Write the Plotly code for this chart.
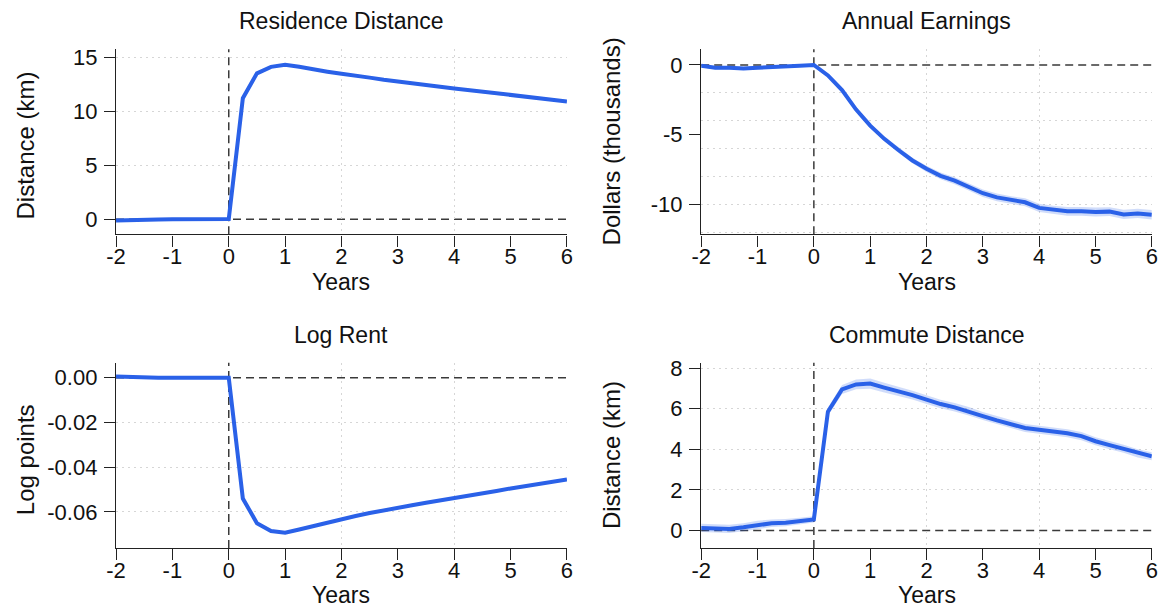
import plotly.graph_objects as go

W, H = 1167, 609

# Event time in years (quarterly)
years = [-2.0, -1.75, -1.5, -1.25, -1.0, -0.75, -0.5, -0.25, 0.0,
         0.25, 0.5, 0.75, 1.0, 1.25, 1.5, 1.75, 2.0, 2.25, 2.5, 2.75,
         3.0, 3.25, 3.5, 3.75, 4.0, 4.25, 4.5, 4.75, 5.0, 5.25, 5.5, 5.75, 6.0]

# Residence distance (km)
residence = [-0.12, -0.06, -0.02, -0.02, -0.01, -0.01, 0.0, 0.02, 0.03,
             11.2, 13.5, 14.1, 14.3, 14.1, 13.85, 13.65, 13.45, 13.3, 13.1, 12.9,
             12.72, 12.55, 12.4, 12.25, 12.1, 11.95, 11.78, 11.6, 11.42, 11.3, 11.18, 11.05, 10.9]
residence_se = [0.06] * 9 + [0.1] * 24

# Annual earnings (thousands of dollars)
earnings = [-0.05, -0.2, -0.2, -0.25, -0.2, -0.17, -0.12, -0.06, 0.0,
            -0.75, -1.8, -3.2, -4.35, -5.3, -6.1, -6.85, -7.45, -7.95, -8.3, -8.75,
            -9.2, -9.5, -9.7, -9.85, -10.25, -10.4, -10.5, -10.5, -10.55, -10.52, -10.72, -10.65, -10.75]
earnings_se = [0.12, 0.12, 0.12, 0.12, 0.1, 0.1, 0.08, 0.06, 0.0,
               0.1, 0.12, 0.14, 0.16, 0.18, 0.2, 0.2, 0.22, 0.24, 0.25, 0.26,
               0.27, 0.28, 0.28, 0.29, 0.3, 0.3, 0.31, 0.31, 0.32, 0.32, 0.33, 0.33, 0.34]

# Log rent (log points)
log_rent = [0.0005, 0.0002, 0.0, 0.0, 0.0, -0.0001, -0.0001, -0.0001, -0.0001,
            -0.054, -0.065, -0.0685, -0.0693, -0.0678, -0.0662, -0.0646, -0.0631, -0.0618, -0.0605, -0.0592,
            -0.0581, -0.057, -0.0559, -0.0549, -0.054, -0.0529, -0.0518, -0.0506, -0.0495, -0.0485, -0.0474, -0.0464, -0.0455]
log_rent_se = [0.0003] * 9 + [0.0004] * 24

# Commute distance (km)
commute = [0.13, 0.1, 0.08, 0.16, 0.28, 0.36, 0.39, 0.47, 0.55,
           5.86, 6.95, 7.2, 7.24, 7.04, 6.87, 6.67, 6.45, 6.23, 6.07, 5.88,
           5.64, 5.43, 5.25, 5.05, 4.96, 4.87, 4.79, 4.65, 4.4, 4.21, 4.03, 3.8, 3.66]
commute_se = [0.2, 0.2, 0.2, 0.2, 0.2, 0.19, 0.18, 0.16, 0.15,
              0.2, 0.22, 0.24, 0.25, 0.24, 0.23, 0.22, 0.22, 0.21, 0.21, 0.21,
              0.2, 0.2, 0.2, 0.2, 0.2, 0.2, 0.2, 0.2, 0.2, 0.2, 0.2, 0.2, 0.2]

x_ticks = [-2, -1, 0, 1, 2, 3, 4, 5, 6]
x_ticktext = ["-2", "-1", "0", "1", "2", "3", "4", "5", "6"]
x_grid = [2, 4, 6]

titles = ["Residence Distance", "Annual Earnings", "Log Rent", "Commute Distance"]
y_titles = ["Distance (km)", "Dollars (thousands)", "Log points", "Distance (km)"]
series = [residence, earnings, log_rent, commute]
series_se = [residence_se, earnings_se, log_rent_se, commute_se]
y_tickvals = [[0, 5, 10, 15], [-10, -5, 0], [-0.06, -0.04, -0.02, 0.0], [0, 2, 4, 6, 8]]
y_ticktext = [["0", "5", "10", "15"], ["-10", "-5", "0"],
              ["-0.06", "-0.04", "-0.02", "0.00"], ["0", "2", "4", "6", "8"]]
y_grid = [[5, 10, 15], [-2, -4, -6, -8, -10, -12], [-0.02, -0.04, -0.06], [2, 4, 6, 8]]
y_ranges = [[-1.4, 15.73], [-12.15, 1.13], [-0.0761, 0.0066], [-0.86, 8.26]]

LINE = "#2a61e8"
BAND = "rgba(42, 97, 232, 0.22)"
FONT = "Liberation Sans, Arial, Helvetica, sans-serif"
INK = "#111"
AXIS = "#222"
GRID = "#d6d6d6"

# plot areas in pixels: (left, right, top, bottom)
boxes = [(107.5, 564.7, 42.7, 230.0), (700.8, 1157.7, 42.7, 230.0),
         (107.5, 564.7, 360.0, 547.3), (700.8, 1157.7, 360.0, 547.3)]


def px_x(v):
    return v / W


def px_y(v):
    return 1 - v / H


fig = go.Figure()
annotations = []
shapes = []

for i in range(4):
    xa = "x" if i == 0 else f"x{i + 1}"
    ya = "y" if i == 0 else f"y{i + 1}"
    vals = series[i]
    se = series_se[i]
    lower = [v - s for v, s in zip(vals, se)]
    upper = [v + s for v, s in zip(vals, se)]
    fig.add_trace(go.Scatter(x=years, y=lower, mode="lines", line=dict(width=0, color=BAND),
                             xaxis=xa, yaxis=ya, showlegend=False, hoverinfo="skip"))
    fig.add_trace(go.Scatter(x=years, y=upper, mode="lines", line=dict(width=0, color=BAND),
                             fill="tonexty", fillcolor=BAND,
                             xaxis=xa, yaxis=ya, showlegend=False, hoverinfo="skip"))
    fig.add_trace(go.Scatter(x=years, y=vals, mode="lines", line=dict(width=4, color=LINE),
                             xaxis=xa, yaxis=ya, showlegend=False))

    l, r, t, b = boxes[i]
    xkey = "xaxis" if i == 0 else f"xaxis{i + 1}"
    ykey = "yaxis" if i == 0 else f"yaxis{i + 1}"
    fig.update_layout({
        xkey: dict(
            domain=[px_x(l), px_x(r)], anchor=ya, range=[-2, 6],
            tickvals=x_ticks, ticktext=x_ticktext,
            showline=True, linecolor=AXIS, linewidth=1.4,
            ticks="outside", ticklen=11, tickwidth=1.4, tickcolor=AXIS,
            showgrid=False, zeroline=False, ticklabelstandoff=-9,
            tickfont=dict(family=FONT, size=22, color=INK),
            minor=dict(tickvals=x_grid, showgrid=True, gridcolor=GRID,
                       griddash="2px,4px", gridwidth=1, ticks=""),
        ),
        ykey: dict(
            domain=[px_y(b), px_y(t)], anchor=xa, range=y_ranges[i],
            tickvals=y_tickvals[i], ticktext=y_ticktext[i],
            showline=True, linecolor=AXIS, linewidth=1.4,
            ticks="outside", ticklen=11, tickwidth=1.4, tickcolor=AXIS,
            showgrid=False, zeroline=False, ticklabelstandoff=2,
            tickfont=dict(family=FONT, size=22, color=INK),
            minor=dict(tickvals=y_grid[i], showgrid=True, gridcolor=GRID,
                       griddash="2px,4px", gridwidth=1, ticks=""),
        ),
    })

    # reference lines at event time 0 and at zero effect
    shapes.append(dict(type="line", xref=xa, yref=f"{ya} domain", x0=0, x1=0, y0=0, y1=1,
                       line=dict(color="#3a3a3a", width=1.5, dash="8px,5px"), layer="below"))
    shapes.append(dict(type="line", xref=f"{xa} domain", yref=ya, x0=0, x1=1, y0=0, y1=0,
                       line=dict(color="#3a3a3a", width=1.5, dash="8px,5px"), layer="below"))

    cx = (l + r) / 2
    title_y = 14 if i < 2 else 332
    annotations.append(dict(text=titles[i], x=px_x(cx), y=px_y(title_y), xref="paper", yref="paper",
                            xanchor="center", yanchor="middle", showarrow=False,
                            font=dict(family=FONT, size=23, color=INK)))
    annotations.append(dict(text="Years", x=px_x(cx), y=px_y(b + 48), xref="paper", yref="paper",
                            xanchor="center", yanchor="middle", showarrow=False,
                            font=dict(family=FONT, size=23, color=INK)))
    ylab_x = 16 if i % 2 == 0 else 610
    ylab_y = (t + b) / 2 + (4 if i % 2 == 0 else 0)
    annotations.append(dict(text=y_titles[i], x=px_x(ylab_x), y=px_y(ylab_y), xref="paper", yref="paper",
                            xanchor="center", yanchor="middle", textangle=-90, showarrow=False,
                            font=dict(family=FONT, size=24, color=INK)))

fig.update_layout(
    width=W, height=H,
    margin=dict(l=0, r=0, t=0, b=0),
    paper_bgcolor="white", plot_bgcolor="white",
    annotations=annotations, shapes=shapes,
    showlegend=False,
)

fig.write_html("out.html")
